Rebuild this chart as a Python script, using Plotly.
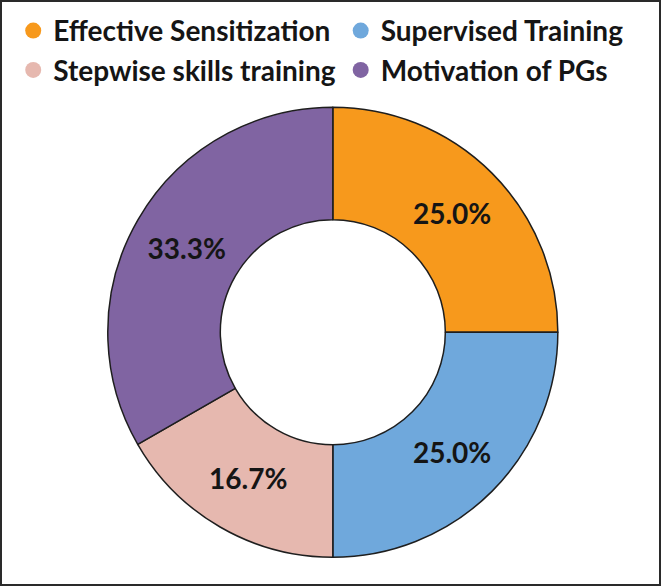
import plotly.graph_objs as go

labels = ["Effective Sensitization", "Supervised Training", "Stepwise skills training", "Motivation of PGs"]
values = [25.0, 25.0, 16.7, 33.3]
colors = ["#F7991C", "#6FA8DC", "#E6B8AF", "#8064A2"]

font_family = "Lato, 'Open Sans', sans-serif"

# the donut itself (legend drawn by dummy scatter traces so the symbols are circles)
pie = go.Pie(
    labels=labels,
    values=values,
    hole=0.5,
    sort=False,
    direction="clockwise",
    rotation=0,
    marker=dict(colors=colors, line=dict(color="#1e1e1e", width=1.5)),
    textinfo="percent",
    texttemplate="%{percent:.1%}",
    textposition="inside",
    insidetextorientation="horizontal",
    textfont=dict(family=font_family, size=28, color="#151515", weight="bold"),
    domain=dict(x=[0.163, 0.844], y=[0.049, 0.817]),
    showlegend=False,
    hoverinfo="label+percent",
)

legend_traces = []
for name, col in zip(labels, colors):
    legend_traces.append(go.Scatter(
        x=[None], y=[None], mode="markers", name=name,
        marker=dict(symbol="circle", size=20, color=col),
    ))

layout = go.Layout(
    width=661,
    height=586,
    margin=dict(l=0, r=0, t=0, b=0),
    paper_bgcolor="white",
    plot_bgcolor="white",
    xaxis=dict(visible=False),
    yaxis=dict(visible=False),
    showlegend=True,
    legend=dict(
        orientation="h",
        x=0.02, xanchor="left",
        y=0.99, yanchor="top",
        font=dict(family=font_family, size=28, color="#151515", weight="bold"),
        bgcolor="rgba(0,0,0,0)",
    ),
    shapes=[dict(
        type="rect", xref="paper", yref="paper", x0=0, x1=1, y0=0, y1=1,
        line=dict(color="#2a2a2a", width=4),
    )],
)

fig = go.Figure(data=[pie] + legend_traces, layout=layout)
# drop the browser's default body margin so the 661x586 figure fills the window
fig.write_html("out.html", config={"displayModeBar": False},
               post_script="document.body.style.margin='0';")
